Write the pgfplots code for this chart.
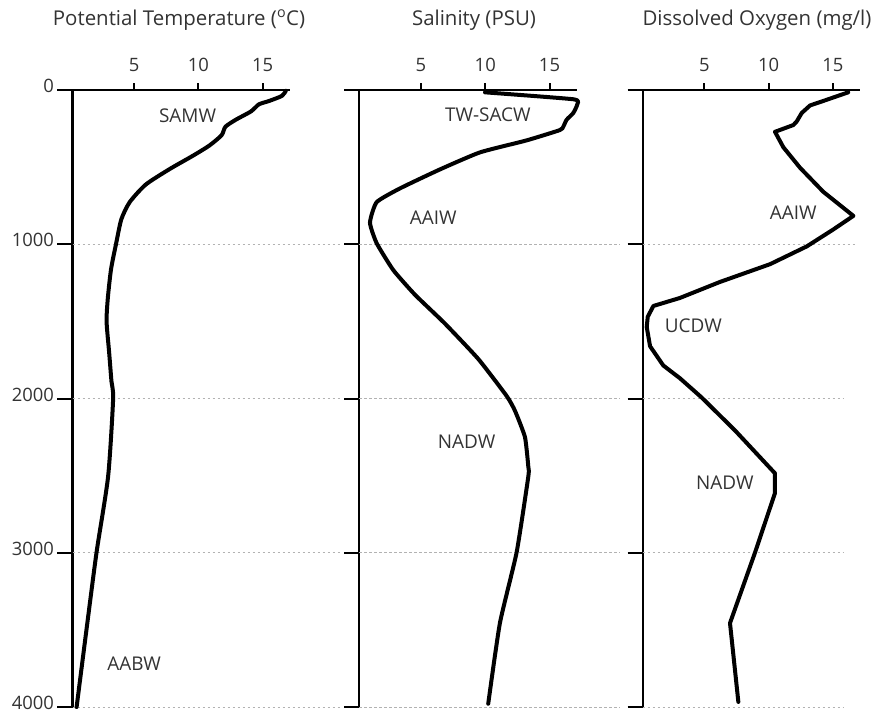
\documentclass[border=0pt]{standalone}
\usepackage{fontspec}
\setmainfont{Open Sans}
\usepackage{pgfplots}
\pgfplotsset{compat=1.18}

\tikzset{wm/.style={font=\fontsize{19}{19}\selectfont, text=black!80}}
\pgfplotsset{
 panel/.style={
  scale only axis,
  width=217.2bp, height=617bp,
  xmin=0.2, xmax=17.1, ymin=0, ymax=4000,
  y dir=reverse,
  axis x line=top, axis y line=left,
  axis line style={-},
  every outer x axis line/.append style={line width=2bp, black},
  every outer y axis line/.append style={line width=2bp, black},
  every inner x axis line/.append style={line width=2bp, black},
  every inner y axis line/.append style={line width=2bp, black},
  tick align=outside,
  xtick={5,10,15}, ytick={0,1000,2000,3000,4000},
  major tick length=15bp,
  every tick/.append style={line width=2bp, black},
  xtick style={line width=2bp, /pgfplots/major tick length=7bp},
  ytick style={line width=2bp},
  tick label style={font=\fontsize{18.5}{18.5}\selectfont, text=black!80},
  yticklabel style={yshift=4bp},
  /pgf/number format/assume math mode=true,
  /pgf/number format/1000 sep={},
  scaled y ticks=false,
  clip=false,
  anchor=north west,
 },
 gridl/.style={gray!60, line width=0.8bp, dash pattern=on 2.5bp off 2.5bp, no markers, forget plot},
 curve/.style={black, line width=4bp, line join=round, line cap=round, no markers},
}

\begin{document}
\begin{tikzpicture}
\useasboundingbox (0,0) rectangle (880bp,-714bp);

\node[anchor=base, font=\fontsize{20.5}{20.5}\selectfont, text=black!80] at (179bp,-25bp) {Potential Temperature (\textsuperscript{o}C)};
\node[anchor=base, font=\fontsize{20.5}{20.5}\selectfont, text=black!80] at (474bp,-25bp) {Salinity (PSU)};
\node[anchor=base, font=\fontsize{20.5}{20.5}\selectfont, text=black!80] at (757bp,-25bp) {Dissolved Oxygen (mg/l)};

% Panel 1: temperature
\begin{axis}[panel, at={(72.5bp,-90bp)}]
\addplot[gridl] coordinates {(0.2,1000) (21.2,1000)};
\addplot[gridl] coordinates {(0.2,2000) (21.2,2000)};
\addplot[gridl] coordinates {(0.2,3000) (21.2,3000)};
\addplot[gridl] coordinates {(0.2,4000) (21.2,4000)};
\addplot[curve, smooth, tension=0.4] coordinates {
(16.8,5) (16.5,38) (15.5,71) (14.7,93) (14.1,138) (12.9,193) (12.1,238)
(11.8,293) (10.85,360) (9.55,427) (7.75,513) (5.9,613) (4.65,727)
(4.0,838) (3.6,993) (3.2,1161) (2.95,1348) (2.85,1500) (3.05,1700)
(3.23,1888) (3.36,2004) (2.97,2506) (2.07,2998) (1.29,3497) (0.52,4000)};
\node[wm] at (axis cs:9.15,167) {SAMW};
\node[wm] at (axis cs:5.0,3719) {AABW};
\end{axis}

% Panel 2: salinity
\begin{axis}[panel, at={(359.3bp,-90bp)}, yticklabels={}]
\addplot[gridl] coordinates {(0.2,1000) (20.5,1000)};
\addplot[gridl] coordinates {(0.2,2000) (20.5,2000)};
\addplot[gridl] coordinates {(0.2,3000) (20.5,3000)};
\addplot[gridl] coordinates {(0.2,4000) (20.5,4000)};
\addplot[curve, smooth, tension=0.3] coordinates {
(9.98,15) (16.85,60) (17.16,93) (16.85,149) (16.33,193) (16.07,238)
(15.8,260) (13.2,327) (9.6,404) (6.47,515) (3.36,638) (1.55,727)
(1.03,860) (1.55,993) (2.84,1167) (4.53,1327) (6.86,1514) (9.46,1744)
(11.66,1983) (12.31,2079) (13.09,2250) (13.35,2442) (13.35,2506)
(12.44,2998) (11.14,3456) (10.23,3979)};
\node[wm] at (axis cs:10.2,160) {TW-SACW};
\node[wm] at (axis cs:5.95,827) {AAIW};
\node[wm] at (axis cs:8.55,2282) {NADW};
\end{axis}

% Panel 3: dissolved oxygen
\begin{axis}[panel, at={(642.6bp,-90bp)}, yticklabels={}]
\addplot[gridl] coordinates {(0.2,1000) (16.9,1000)};
\addplot[gridl] coordinates {(0.2,2000) (15.8,2000)};
\addplot[gridl] coordinates {(0.2,3000) (15.8,3000)};
\addplot[gridl] coordinates {(0.2,4000) (15.8,4000)};
\addplot[curve] coordinates {
(16.2,15) (14.26,71) (13.23,100) (12.58,149) (12.19,204) (11.93,227)
(10.5,271) (11.15,371) (12.45,504) (14.26,660) (16.6,816) (15.04,904)
(12.97,1014) (10.12,1129) (6.23,1244) (3.11,1348) (1.04,1400)
(0.6,1470) (0.52,1536) (0.78,1661) (1.81,1786) (3.11,1869) (4.8,1994)
(7.39,2207) (10.5,2485) (10.5,2613) (8.95,2998) (7.0,3456) (7.65,3967)};
\node[wm] at (axis cs:11.93,793) {AAIW};
\node[wm] at (axis cs:4.15,1525) {UCDW};
\node[wm] at (axis cs:6.6,2548) {NADW};
\end{axis}
\end{tikzpicture}
\end{document}
